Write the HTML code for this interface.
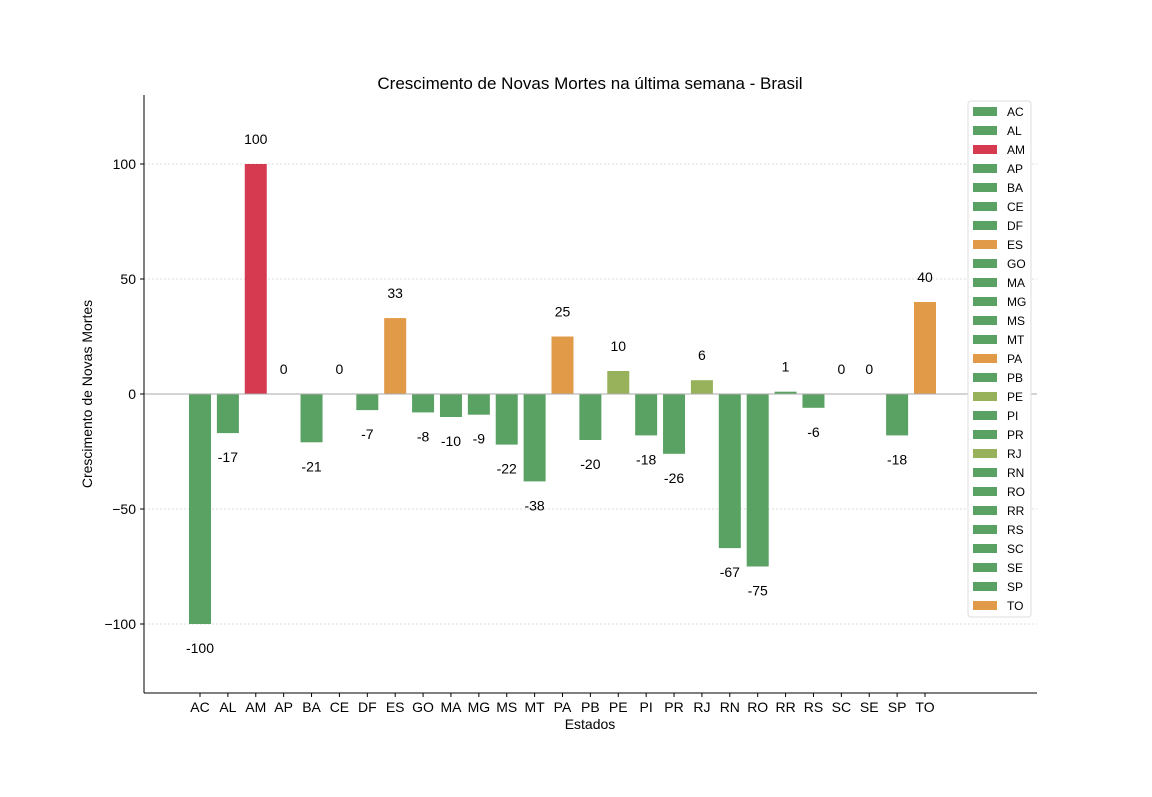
<!DOCTYPE html>
<html><head><meta charset="utf-8"><style>
body{margin:0;background:#fff;}
svg text{font-family:"Liberation Sans","DejaVu Sans",sans-serif;}
</style></head><body>
<svg id="c" width="1152" height="792" xmlns="http://www.w3.org/2000/svg"></svg>
<script>
const categories=["AC","AL","AM","AP","BA","CE","DF","ES","GO","MA","MG","MS","MT","PA","PB","PE","PI","PR","RJ","RN","RO","RR","RS","SC","SE","SP","TO"];
const values=[-100,-17,100,0,-21,0,-7,33,-8,-10,-9,-22,-38,25,-20,10,-18,-26,6,-67,-75,1,-6,0,0,-18,40];
const yTicks=[-100,-50,0,50,100];
const G="#59a263",R="#d63a50",O="#e09a48",L="#97b25a";
function colorOf(v){return v>=100?R:v>=20?O:v>=5?L:G;}
const NS="http://www.w3.org/2000/svg",svg=document.getElementById('c');
const X0=144,X1=1037,Y0=95,Y1=693;
const yMin=-130,yMax=130;
function y(v){return Y1-(v-yMin)/(yMax-yMin)*(Y1-Y0);}
const n=categories.length;
function xc(i){return 200+i*(725/(n-1));}
function mk(t,a,txt){const e=document.createElementNS(NS,t);for(const k in a)e.setAttribute(k,a[k]);if(txt!==undefined)e.textContent=txt;svg.appendChild(e);return e;}
let e=mk('text',{x:590,y:89,'text-anchor':'middle','font-size':17},'Crescimento de Novas Mortes na última semana - Brasil');

yTicks.forEach(t=>{
 let g=mk('line',{x1:X0,x2:X1,y1:y(t),y2:y(t),stroke:'#bbb','stroke-width':0.6,'stroke-dasharray':'2,2'});
 
 let tk=mk('line',{x1:X0-4,x2:X0,y1:y(t),y2:y(t),stroke:'#000'});
 
 let lb=mk('text',{x:X0-8,y:y(t)+5,'text-anchor':'end','font-size':14},t<0?'−'+(-t):String(t));
 
});
const bw=22;
values.forEach((v,i)=>{
 const x=xc(i);
 let b=mk('rect',{x:x-bw/2,y:Math.min(y(v),y(0)),width:bw,height:Math.abs(y(v)-y(0)),fill:colorOf(v)});
 
 const ly=v>=0?y(v)-20:y(v)+29;
 let t=mk('text',{x:x,y:ly,'text-anchor':'middle','font-size':14},String(v));
 
 let tk=mk('line',{x1:x,x2:x,y1:Y1,y2:Y1+4,stroke:'#000'});
 
 let xl=mk('text',{x:x,y:Y1+19,'text-anchor':'middle','font-size':14},categories[i]);
 
});
e=mk('line',{x1:X0,x2:X1,y1:y(0),y2:y(0),stroke:'#aaa','stroke-width':1});

e=mk('line',{x1:X0,x2:X0,y1:Y0,y2:Y1,stroke:'#000'});
e=mk('line',{x1:X0,x2:X1,y1:Y1,y2:Y1,stroke:'#000'});
e=mk('text',{x:590,y:729,'text-anchor':'middle','font-size':14},'Estados');
e=mk('text',{x:92,y:394,'text-anchor':'middle','font-size':14,transform:'rotate(-90 92 394)'},'Crescimento de Novas Mortes');
e=mk('rect',{x:968,y:101,width:63,height:516,fill:'#fff',stroke:'#ddd',rx:3});
categories.forEach((c,i)=>{
 const ly=111+i*19;
 let p=mk('rect',{x:973,y:ly-4,width:24,height:9,fill:colorOf(values[i])});
 
 let t=mk('text',{x:1007,y:ly+5,'font-size':12},c);
 
});
</script>
</body></html>
